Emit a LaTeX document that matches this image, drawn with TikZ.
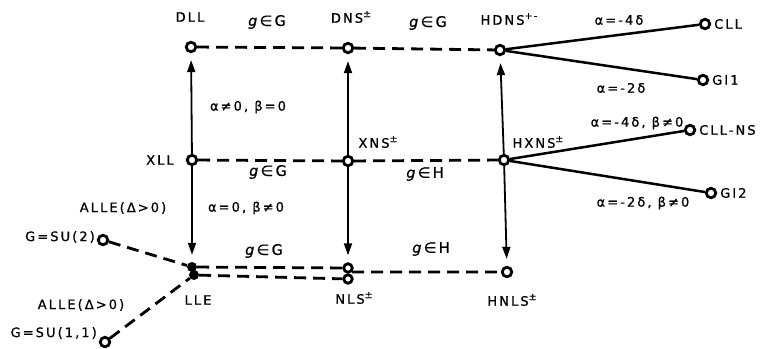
\documentclass[tikz,border=0pt]{standalone}
\usepackage{fontspec}
\setmainfont{DejaVu Sans}[LetterSpace=16,FakeBold=0.8]
\usetikzlibrary{arrows.meta}
\newcommand\supr[1]{\raisebox{0.8ex}{\fontsize{9.5}{9.5}\selectfont #1}}
\begin{document}
\begin{tikzpicture}[x=1pt,y=-1pt,
  st/.style={circle,draw,line width=2.8pt,fill=white,inner sep=0pt,minimum size=9.5pt},
  fst/.style={circle,fill,inner sep=0pt,minimum size=10pt},
  dsh/.style={line width=2.8pt,dash pattern=on 12pt off 7pt},
  sol/.style={line width=2.5pt},
  arr/.style={line width=1.8pt,-{Triangle[length=12pt,width=8pt]},shorten >=7pt},
  lbl/.style={font=\fontsize{13}{15}\selectfont,inner sep=0pt},
  glbl/.style={font=\fontsize{14.5}{16}\selectfont,inner sep=0pt}]
\useasboundingbox (0,0) rectangle (781,348);
% nodes
\node[st] (dll) at (191,47) {};
\node[st] (dns) at (348,48) {};
\node[st] (hdns) at (500,50) {};
\node[st] (xll) at (192,160) {};
\node[st] (xns) at (348,161) {};
\node[st] (hxns) at (504,160) {};
\node[fst] (lle) at (192,267) {};
\node[fst] (lleb) at (194,275) {};
\node[st,minimum size=8.5pt] (nls) at (348,268) {};
\node[st,minimum size=8.5pt] (nlsb) at (348,279) {};
\node[st] (hnls) at (507,272) {};
\node[st] (su2) at (103,240) {};
\node[st] (su11) at (105,342) {};
\node[st] (cll) at (705,24) {};
\node[st] (gi1) at (703,80) {};
\node[st] (cllns) at (690,130) {};
\node[st] (gi2) at (711,193) {};
% dashed horizontals
\draw[dsh] (dll) -- (dns);
\draw[dsh] (dns) -- (hdns);
\draw[dsh] (xll) -- (xns);
\draw[dsh] (xns) -- (hxns);
\draw[dsh] (lle) -- (nls);
\draw[dsh] (lleb) -- (nlsb);
\draw[dsh] (nls.south east) -- (hnls);
\draw[dsh] (su2) -- (lle);
\draw[dsh] (su11) -- (lleb);
% vertical arrows
\draw[arr] (xll) -- (dll);
\draw[arr] (xll) -- (lle);
\draw[arr] (xns) -- (dns);
\draw[arr] (xns) -- (nls);
\draw[arr] (hxns) -- (hdns);
\draw[arr] (hxns) -- (hnls);
% solid branches
\draw[sol] (hdns) -- (cll);
\draw[sol] (hdns) -- (gi1);
\draw[sol] (hxns) -- (cllns);
\draw[sol] (hxns) -- (gi2);
% labels
\node[lbl] (tdll) at (190,17) {DLL};
\node[lbl] (tdns) at (351,17) {DNS\supr{±}};
\node[lbl] (thdns) at (509,19) {HDNS\supr{+-}};
\node[lbl] (txll) at (160,160) {XLL};
\node[lbl] (txns) at (378,142) {XNS\supr{±}};
\node[lbl] (thxns) at (538,142) {HXNS\supr{±}};
\node[lbl] (tlle) at (198,300) {LLE};
\node[lbl] (tnls) at (354,298) {NLS\supr{±}};
\node[lbl] (thnls) at (512,300) {HNLS\supr{±}};
\node[glbl] (g1) at (267,22) {\textit{g}∈G};
\node[glbl] (g2) at (428,23) {\textit{g}∈G};
\node[glbl] (g3) at (268,172) {\textit{g}∈G};
\node[glbl] (g4) at (425,174) {\textit{g}∈H};
\node[glbl] (g5) at (264,251) {\textit{g}∈G};
\node[glbl] (g6) at (431,249) {\textit{g}∈H};
\node[lbl] (c1) at (248,107) {α≠0, β=0};
\node[lbl] (c2) at (246,208) {α=0, β≠0};
\node[lbl] (c3) at (619,20) {α=-4δ};
\node[lbl] (c4) at (621,88) {α=-2δ};
\node[lbl] (c5) at (637,123) {α=-4δ, β≠0};
\node[lbl] (c6) at (643,203) {α=-2δ, β≠0};
\node[lbl,anchor=west] (tcll) at (714,24) {CLL};
\node[lbl,anchor=west] (tgi1) at (712,80) {GI1};
\node[lbl,anchor=west] (tcllns) at (699,130) {CLL-NS};
\node[lbl,anchor=west] (tgi2) at (720,193) {GI2};
\node[lbl] (a1) at (123,208) {ALLE(Δ>0)};
\node[lbl,anchor=east] (s1) at (95,237) {G=SU(2)};
\node[lbl] (a2) at (81,305) {ALLE(Δ>0)};
\node[lbl,anchor=east] (s2) at (97,333) {G=SU(1,1)};
\end{tikzpicture}
\end{document}
